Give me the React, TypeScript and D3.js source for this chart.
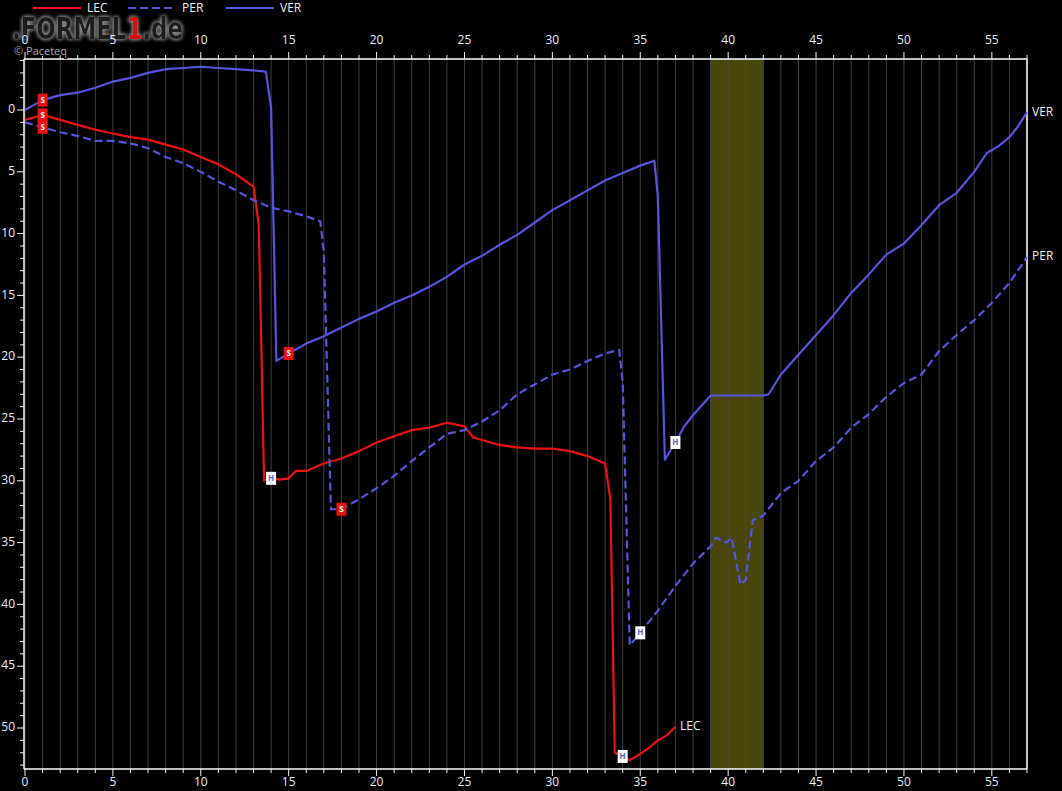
import React from "react";
import * as d3 from "d3";

const W = 1062;
const H = 791;

const lecData: [number, number][] = [
  [0, 0.8], [1, 0.4], [2, 0.8], [3, 1.2], [4, 1.6], [5, 1.9], [6, 2.2], [7, 2.4], [8, 2.8], [9, 3.2],
  [10, 3.8], [11, 4.4], [12, 5.2], [13, 6.2], [13.3, 9.3], [13.6, 30.0], [14, 29.8], [14.5, 29.9],
  [15, 29.8], [15.4, 29.2], [16, 29.2], [17, 28.6], [18, 28.2], [19, 27.6], [20, 26.9], [21, 26.4],
  [22, 25.9], [23, 25.7], [24, 25.3], [25, 25.6], [25.5, 26.5], [26, 26.7], [27, 27.1], [28, 27.3],
  [29, 27.4], [30, 27.4], [31, 27.6], [32, 28.0], [33, 28.6], [33.3, 31.5], [33.55, 52.0], [34, 52.3],
  [34.4, 52.6], [35, 52.1], [35.5, 51.6], [36, 51.0], [36.5, 50.6], [37, 49.9],
];

const perData: [number, number][] = [
  [0, 1.0], [1, 1.4], [2, 1.8], [3, 2.1], [4, 2.5], [5, 2.5], [6, 2.7], [7, 3.1], [8, 3.8], [9, 4.3],
  [10, 5.0], [11, 5.8], [12, 6.5], [13, 7.3], [14, 7.9], [15, 8.2], [16, 8.6], [16.8, 9.0], [17.0, 11.5],
  [17.4, 32.3], [18, 32.3], [19, 31.5], [20, 30.6], [21, 29.6], [22, 28.4], [23, 27.3], [24, 26.2],
  [25, 25.9], [26, 25.2], [27, 24.3], [28, 23.0], [29, 22.2], [30, 21.4], [31, 21.0], [32, 20.3],
  [33, 19.7], [33.8, 19.4], [34.0, 22.0], [34.4, 43.3], [35, 42.3], [36, 40.5], [37, 38.5], [38, 36.7],
  [39, 35.3], [39.3, 34.6], [39.9, 35.0], [40.2, 34.6], [40.7, 38.4], [41.0, 38.0], [41.4, 33.2],
  [42, 32.8], [43, 31.0], [44, 30.0], [45, 28.4], [46, 27.3], [47, 25.7], [48, 24.6], [49, 23.2],
  [50, 22.1], [51, 21.4], [52, 19.5], [53, 18.2], [54, 17.0], [55, 15.6], [56, 14.0], [57, 11.9],
];

const verData: [number, number][] = [
  [0, 0.0], [1, -0.8], [2, -1.2], [3, -1.4], [4, -1.8], [5, -2.3], [6, -2.6], [7, -3.0], [8, -3.3],
  [9, -3.4], [10, -3.5], [11, -3.4], [12, -3.3], [13, -3.2], [13.7, -3.1], [14.0, -0.2], [14.3, 20.3],
  [15, 19.7], [16, 18.9], [17, 18.3], [18, 17.6], [19, 16.9], [20, 16.3], [21, 15.6], [22, 15.0],
  [23, 14.3], [24, 13.5], [25, 12.5], [26, 11.8], [27, 10.9], [28, 10.1], [29, 9.1], [30, 8.1],
  [31, 7.3], [32, 6.5], [33, 5.7], [34, 5.1], [35, 4.5], [35.8, 4.1], [36.0, 7.0], [36.4, 28.3],
  [37, 26.9], [37.5, 25.6], [38, 24.7], [39, 23.1], [40, 23.1], [41, 23.1], [42, 23.1], [42.3, 23.0],
  [43, 21.4], [44, 19.8], [45, 18.2], [46, 16.6], [47, 14.8], [48, 13.3], [49, 11.7], [50, 10.8],
  [51, 9.3], [52, 7.7], [53, 6.7], [54, 5.0], [54.7, 3.5], [55.4, 2.9], [56, 2.2], [56.4, 1.5], [57, 0.2],
];

const drivers = ["LEC", "PER", "VER"];
const driverColors = ["#ee1111", "#5555dd", "#5555dd"];
const driverDash = [null, "8,4", null];
const driverData = [lecData, perData, verData];

// pit stops: driver, lap, compound
const pitDrivers = ["VER", "LEC", "PER", "VER", "LEC", "PER", "VER", "PER", "LEC"];
const pitLaps = [1, 1, 1, 15, 14, 18, 37, 35, 34];
const pitCompounds = ["S", "S", "S", "S", "H", "S", "H", "H", "H"];

const xTickLabels = [0, 5, 10, 15, 20, 25, 30, 35, 40, 45, 50, 55];
const yTickLabels = [0, 5, 10, 15, 20, 25, 30, 35, 40, 45, 50];
const scBand = [39, 42];

const FONT = "'Open Sans', 'Noto Sans', sans-serif";

export default function App() {
  const left = 25, right = 1027, top = 59, bottom = 769;
  const x = d3.scaleLinear().domain([0, 57]).range([left, right]);
  const y = d3.scaleLinear().domain([0, 50]).range([110, 728]);
  const yMin = y.invert(top), yMax = y.invert(bottom);

  const line = d3.line<[number, number]>().x(d => x(d[0])).y(d => y(d[1]));

  const interp = (data: [number, number][], lap: number) => {
    const i = d3.bisector((d: [number, number]) => d[0]).left(data, lap);
    if (i <= 0) return data[0][1];
    if (i >= data.length) return data[data.length - 1][1];
    const a = data[i - 1], b = data[i];
    if (b[0] === lap) return b[1];
    return a[1] + (b[1] - a[1]) * (lap - a[0]) / (b[0] - a[0]);
  };

  const lapTicks = d3.range(0, 58);
  const yMinor = d3.range(Math.ceil(yMin), Math.floor(yMax) + 1);

  const tickColor = "#f0f4ff";
  const labelColor = "#e6eeff";

  return (
    <div style={{ position: "absolute", left: 0, top: 0, width: W, height: H, background: "#000" }}>
      <svg width={W} height={H} style={{ display: "block", background: "#000" }} fontFamily={FONT}>
        <defs>
          <filter id="glow" x="-10%" y="-30%" width="120%" height="160%">
            <feGaussianBlur in="SourceAlpha" stdDeviation="2" result="b" />
            <feFlood floodColor="#9a9a9a" result="c" />
            <feComposite in="c" in2="b" operator="in" result="g" />
            <feMerge>
              <feMergeNode in="g" />
              <feMergeNode in="g" />
              <feMergeNode in="SourceGraphic" />
            </feMerge>
          </filter>
        </defs>
        <rect x={0} y={0} width={W} height={H} fill="#000" />
        {/* SC band */}
        <rect x={x(scBand[0])} y={top} width={x(scBand[1]) - x(scBand[0])} height={bottom - top} fill="#48460a" />
        {/* vertical grid */}
        {lapTicks.map(l => (
          <line key={"g" + l} x1={x(l)} x2={x(l)} y1={top} y2={bottom}
            stroke="#4a4a4a" strokeOpacity={0.85} strokeWidth={1} />
        ))}
        {/* frame */}
        <line x1={left - 1} x2={left - 1} y1={top} y2={bottom} stroke="#fff" strokeWidth={1.5} />
        <line x1={right} x2={right} y1={top} y2={bottom} stroke="#fff" strokeWidth={1.5} />
        <line x1={left - 1} x2={right} y1={top} y2={top} stroke="#fff" strokeWidth={1.5} />
        <line x1={left - 1} x2={right} y1={bottom} y2={bottom} stroke="#fff" strokeWidth={1.5} />
        {/* top ticks */}
        {lapTicks.map(l => (
          <line key={"tt" + l} x1={x(l)} x2={x(l)} y1={top} y2={top - (l % 5 === 0 ? 7 : 4)} stroke={tickColor} strokeWidth={1} />
        ))}
        {/* bottom ticks */}
        {lapTicks.map(l => (
          <line key={"bt" + l} x1={x(l)} x2={x(l)} y1={bottom} y2={bottom + (l % 5 === 0 ? 7 : 4)} stroke={tickColor} strokeWidth={1} />
        ))}
        {/* watermark */}
        <g filter="url(#glow)">
          <text x={12} y={39} fontSize={31} fontWeight={900} fontFamily="'DejaVu Sans', 'Liberation Sans', sans-serif"
            fill="#1a1a1a" textLength={171} lengthAdjust="spacingAndGlyphs">
            .FORMEL<tspan fill="#dd1111">1</tspan>.de
          </text>
        </g>
        <text x={14} y={55} fontSize={11} fill="#a8a8a8" stroke="#000" strokeWidth={2} paintOrder="stroke" fontFamily={FONT}>© Paceteq</text>
        {xTickLabels.map(l => (
          <g key={"xl" + l}>
            <text x={x(l)} y={41} textAnchor="middle" dominantBaseline="middle" fontSize={12} fill={labelColor}>{l}</text>
            <text x={x(l)} y={783} textAnchor="middle" dominantBaseline="middle" fontSize={12} fill={labelColor}>{l}</text>
          </g>
        ))}
        {/* y ticks */}
        {yMinor.map(v => (
          <line key={"yt" + v} x1={left - 1} x2={left - 1 - (v % 5 === 0 ? 7 : 4)} y1={y(v)} y2={y(v)} stroke={tickColor} strokeWidth={1} />
        ))}
        {yTickLabels.map(v => (
          <text key={"yl" + v} x={15} y={y(v)} textAnchor="end" dominantBaseline="middle" fontSize={12} fill={labelColor}>{v}</text>
        ))}
        {/* lines */}
        {driverData.map((d, i) => (
          <path key={"ln" + i} d={line(d) || ""} fill="none" stroke={driverColors[i]} strokeWidth={2.2}
            strokeDasharray={driverDash[i] || undefined} strokeLinejoin="round" />
        ))}
        {/* pit markers */}
        {pitDrivers.map((dr, i) => {
          const di = drivers.indexOf(dr);
          const px = x(pitLaps[i]);
          const py = y(interp(driverData[di], pitLaps[i]));
          const isS = pitCompounds[i] === "S";
          return (
            <g key={"pm" + i}>
              <rect x={px - 5} y={py - 6.5} width={10} height={13} fill={isS ? "#ee1111" : "#ffffff"} />
              <text x={px} y={py + 0.5} textAnchor="middle" dominantBaseline="middle" fontSize={8} fontWeight="bold"
                fill={isS ? "#ffffff" : "#5566cc"}>{pitCompounds[i]}</text>
            </g>
          );
        })}
        {/* end labels */}
        <text x={1032} y={y(interp(verData, 57))} dominantBaseline="middle" fontSize={12} fill="#f0f0f0">VER</text>
        <text x={1032} y={y(interp(perData, 57))} dominantBaseline="middle" fontSize={12} fill="#f0f0f0">PER</text>
        <text x={680} y={y(interp(lecData, 37))} dominantBaseline="middle" fontSize={12} fill="#f0f0f0">LEC</text>
        {/* legend */}
        {drivers.map((dr, i) => {
          const lx = [33, 128, 226][i];
          return (
            <g key={"lg" + i}>
              <line x1={lx} x2={lx + 48} y1={8} y2={8} stroke={driverColors[i]} strokeWidth={2.2}
                strokeDasharray={driverDash[i] || undefined} />
              <text x={lx + 54} y={8.5} dominantBaseline="middle" fontSize={12} fill="#f0f0f0">{dr}</text>
            </g>
          );
        })}
      </svg>
    </div>
  );
}
